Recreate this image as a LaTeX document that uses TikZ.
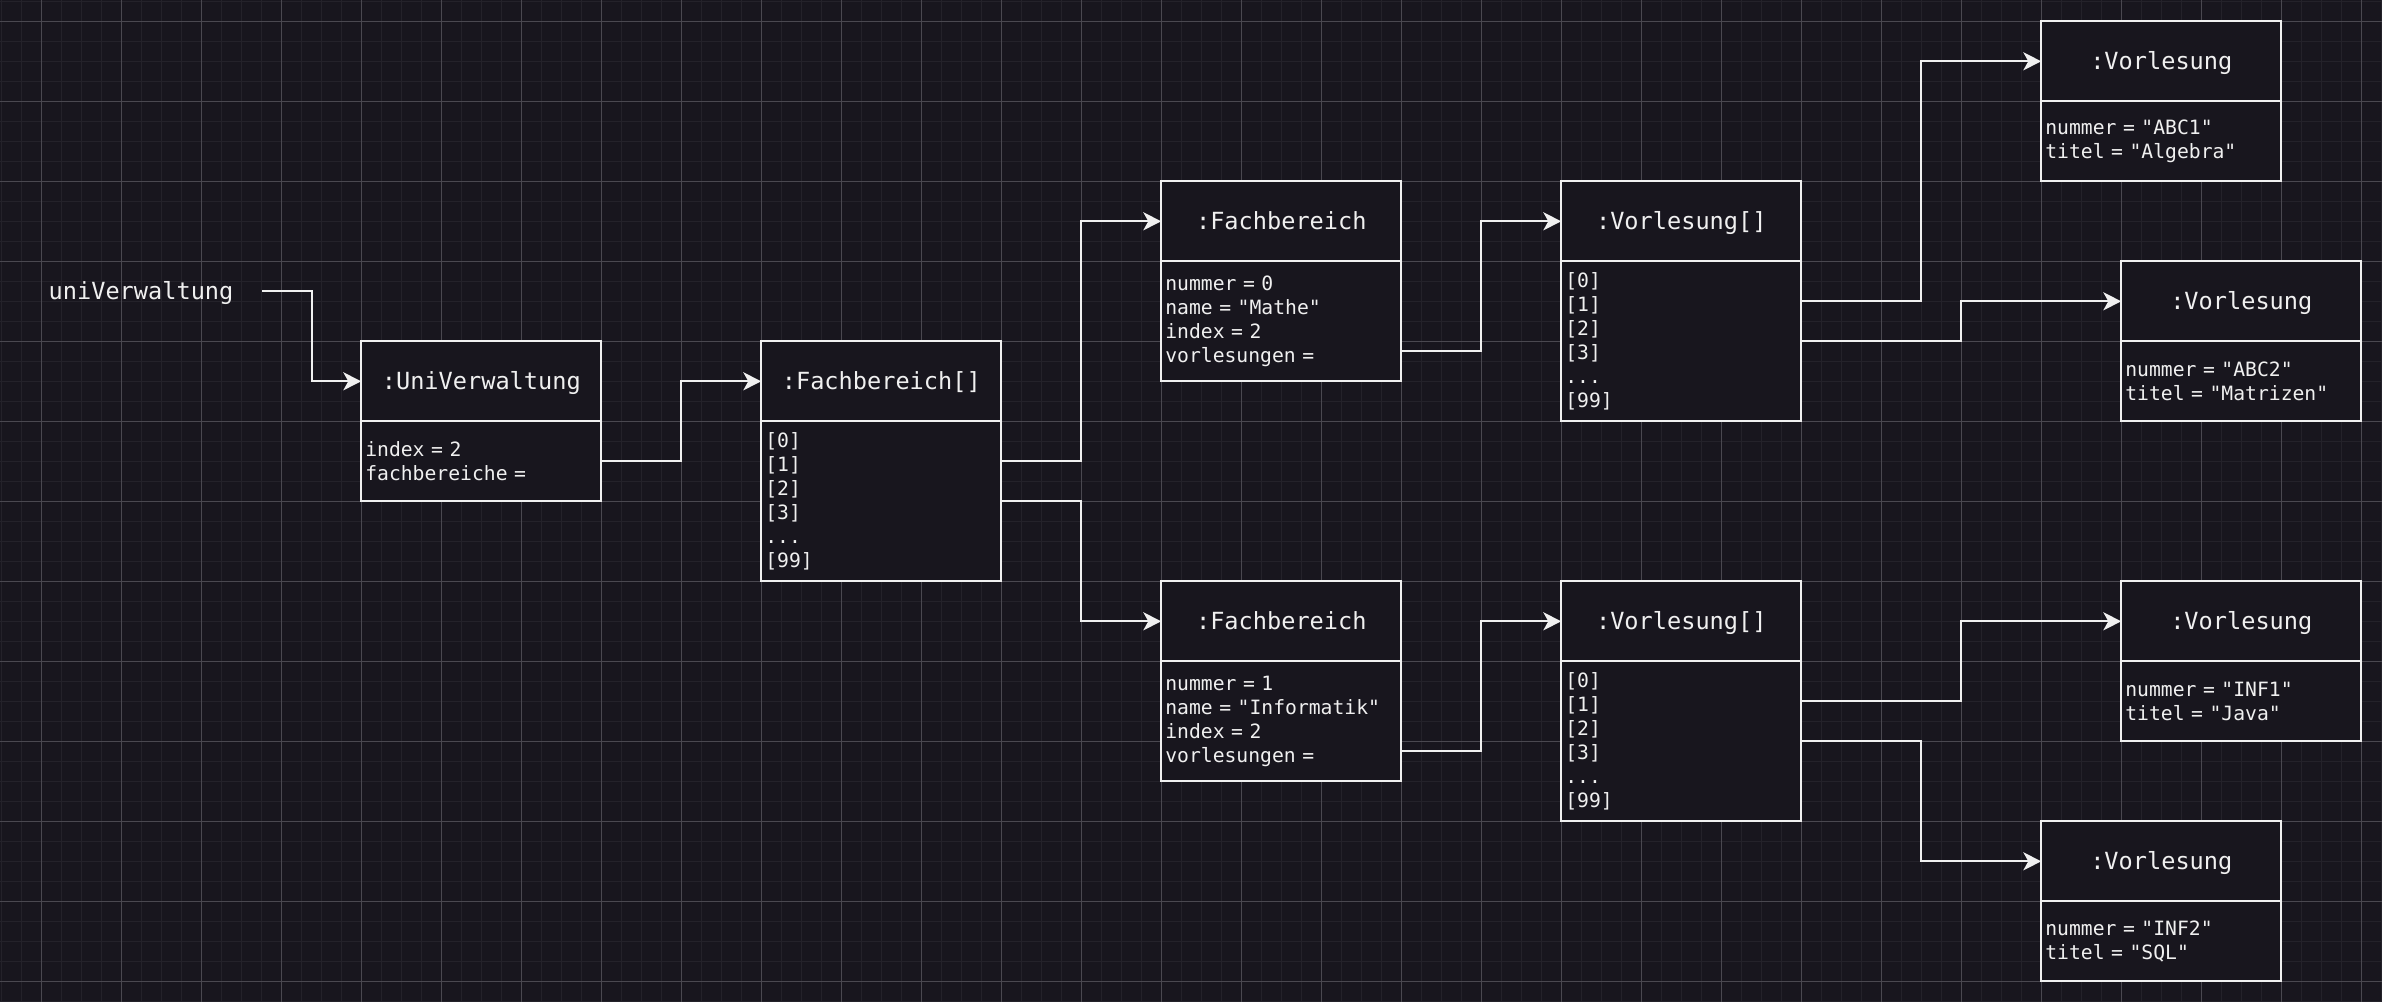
\documentclass[tikz,border=0pt]{standalone}
\usepackage{fontspec}
\setmonofont{DejaVu Sans Mono}
\usetikzlibrary{positioning}
\usetikzlibrary{arrows.meta}

\definecolor{bgc}{RGB}{24,22,30}
\definecolor{gridminor}{RGB}{36,34,42}
\definecolor{gridmajor}{RGB}{74,72,80}
\definecolor{fgc}{RGB}{240,240,240}

\newcommand{\monospaces}{\fontdimen2\font=0.602em\fontdimen3\font=0pt\fontdimen4\font=0pt\relax}
\newcommand{\headfont}{\ttfamily\fontsize{11.8pt}{14pt}\selectfont\monospaces}
\newcommand{\bodyfont}{\ttfamily\fontsize{9.85pt}{12pt}\selectfont\monospaces}

\begin{document}
\begin{tikzpicture}[x=10pt, y=-10pt,
    minorline/.style={gridminor, line width=0.8pt},
    majorline/.style={gridmajor, line width=0.5pt},
    head/.style={draw=fgc, fill=bgc, line width=1pt, text=fgc, font=\headfont,
        minimum width=120pt, minimum height=40pt, inner sep=0pt, outer sep=0pt,
        text height=8.6pt, text depth=0pt, anchor=north west},
    body/.style={draw=fgc, fill=bgc, line width=1pt, text=fgc, font=\bodyfont,
        text width=116pt, inner xsep=2pt, inner ysep=0pt, outer sep=0pt,
        align=left, below=0pt of #1},
    lbl/.style={text=fgc, font=\headfont, anchor=west, text width=103pt,
        inner xsep=3.5pt, inner ysep=0pt, text height=8.6pt, text depth=0pt, align=left},
    link/.style={draw=fgc, line width=1pt, -{Stealth[length=9pt, width=9pt, inset=2.5pt]}}]

    % 背景和网格
    \useasboundingbox (-0.065,-0.065) rectangle (119.035,50.035);
    \fill[bgc] (-0.065,-0.065) rectangle (119.035,50.035);
    \foreach \i in {0,...,119} \draw[minorline] (\i,-0.065) -- (\i,50.035);
    \foreach \j in {0,...,50} \draw[minorline] (-0.065,\j) -- (119.035,\j);
    \foreach \i in {2,6,...,118} \draw[majorline] (\i,-0.065) -- (\i,50.035);
    \foreach \j in {1,5,...,49} \draw[majorline] (-0.065,\j) -- (119.035,\j);

    % 对象
    \node[lbl] (uniLbl) at (2,14.47) {uniVerwaltung};

    \node[head] (uvHead) at (18,17) {:UniVerwaltung};
    \node[body=uvHead, minimum height=40pt] (uvBody) {index = 2\\fachbereiche =};

    \node[head] (fbArrHead) at (38,17) {:Fachbereich[]};
    \node[body=fbArrHead, minimum height=80pt] (fbArrBody) {[0]\\{}[1]\\{}[2]\\{}[3]\\...\\{}[99]};

    \node[head] (matheHead) at (58,9) {:Fachbereich};
    \node[body=matheHead, minimum height=60pt] (matheBody) {nummer = 0\\name = "Mathe"\\index = 2\\vorlesungen =};

    \node[head] (infHead) at (58,29) {:Fachbereich};
    \node[body=infHead, minimum height=60pt] (infBody) {nummer = 1\\name = "Informatik"\\index = 2\\vorlesungen =};

    \node[head] (vlMatheHead) at (78,9) {:Vorlesung[]};
    \node[body=vlMatheHead, minimum height=80pt] (vlMatheBody) {[0]\\{}[1]\\{}[2]\\{}[3]\\...\\{}[99]};

    \node[head] (vlInfHead) at (78,29) {:Vorlesung[]};
    \node[body=vlInfHead, minimum height=80pt] (vlInfBody) {[0]\\{}[1]\\{}[2]\\{}[3]\\...\\{}[99]};

    \node[head] (abcOneHead) at (102,1) {:Vorlesung};
    \node[body=abcOneHead, minimum height=40pt] (abcOneBody) {nummer = "ABC1"\\titel = "Algebra"};

    \node[head] (abcTwoHead) at (106,13) {:Vorlesung};
    \node[body=abcTwoHead, minimum height=40pt] (abcTwoBody) {nummer = "ABC2"\\titel = "Matrizen"};

    \node[head] (infOneHead) at (106,29) {:Vorlesung};
    \node[body=infOneHead, minimum height=40pt] (infOneBody) {nummer = "INF1"\\titel = "Java"};

    \node[head] (infTwoHead) at (102,41) {:Vorlesung};
    \node[body=infTwoHead, minimum height=40pt] (infTwoBody) {nummer = "INF2"\\titel = "SQL"};

    % 引用
    \draw[link] (uniLbl.east) -- ++(2.5,0) |- (uvHead.west);
    \draw[link] (uvBody.east) -- ++(4,0) |- (fbArrHead.west);
    \draw[link] ([yshift=20pt]fbArrBody.east) -- ++(4,0) |- (matheHead.west);
    \draw[link] (fbArrBody.east) -- ++(4,0) |- (infHead.west);
    \draw[link] ([yshift=-15pt]matheBody.east) -- ++(4,0) |- (vlMatheHead.west);
    \draw[link] ([yshift=-15pt]infBody.east) -- ++(4,0) |- (vlInfHead.west);
    \draw[link] ([yshift=20pt]vlMatheBody.east) -- ++(6,0) |- (abcOneHead.west);
    \draw[link] (vlMatheBody.east) -- ++(8,0) |- (abcTwoHead.west);
    \draw[link] ([yshift=20pt]vlInfBody.east) -- ++(8,0) |- (infOneHead.west);
    \draw[link] (vlInfBody.east) -- ++(6,0) |- (infTwoHead.west);

\end{tikzpicture}
\end{document}
